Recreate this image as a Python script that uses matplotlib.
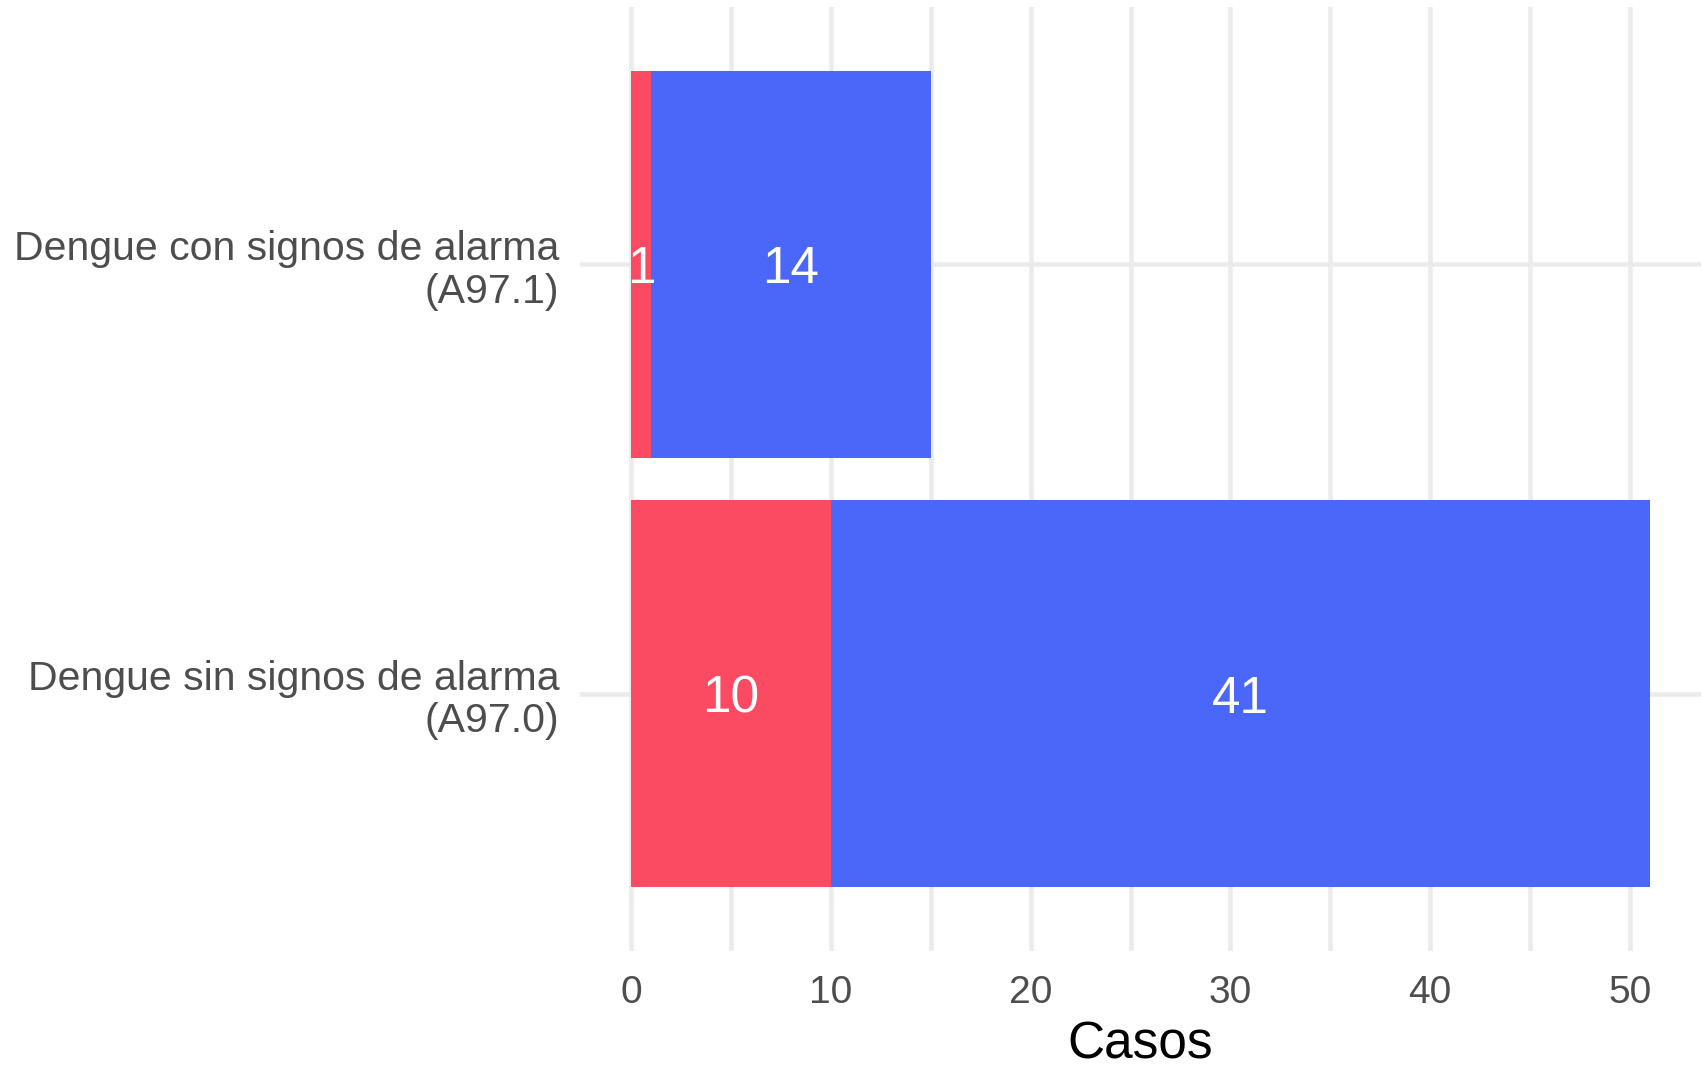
import matplotlib.pyplot as plt
import numpy as np

plt.rcParams["font.family"] = ["Liberation Sans", "DejaVu Sans"]

categories = ["Dengue sin signos de alarma\n(A97.0)", "Dengue con signos de alarma\n(A97.1)"]
red_values = [10, 1]
blue_values = [41, 14]
x_ticks = [0, 10, 20, 30, 40, 50]

RED = "#FB4B62"
BLUE = "#4B67F9"
GRID = "#EBEBEB"

fig = plt.figure(figsize=(17.02, 10.67), dpi=100)
ax = fig.add_axes([580 / 1702, 116 / 1067, 1121 / 1702, 944 / 1067])

y = np.arange(len(categories))
red = np.array(red_values)
blue = np.array(blue_values)

ax.barh(y, red, height=0.9, color=RED, zorder=2)
ax.barh(y, blue, left=red, height=0.9, color=BLUE, zorder=2)

# value labels centred in each segment
for yi, r, b in zip(y, red, blue):
    ax.text(r / 2, yi, str(r), color="white", fontsize=37, ha="center", va="center_baseline", zorder=3)
    ax.text(r + b / 2, yi, str(b), color="white", fontsize=37, ha="center", va="center_baseline", zorder=3)

total_max = (red + blue).max()
ax.set_xlim(-0.05 * total_max, total_max * 1.05)
ax.set_ylim(-0.6, len(categories) - 0.4)

ax.set_xticks(x_ticks)
ax.set_xticks(np.arange(5, 50, 10), minor=True)
ax.set_yticks(y)
ax.set_yticklabels(categories, fontsize=29.5, color="#4D4D4D", linespacing=1.15)
ax.tick_params(axis="x", labelsize=28, labelcolor="#4D4D4D", pad=17)
ax.tick_params(axis="y", pad=15)
ax.tick_params(which="both", length=0)

ax.grid(True, which="both", color=GRID, linewidth=3.3, zorder=0)
ax.set_axisbelow(True)
for s in ax.spines.values():
    s.set_visible(False)

ax.set_xlabel("Casos", fontsize=37, color="black", labelpad=7)

fig.savefig("out.png", dpi=100)
